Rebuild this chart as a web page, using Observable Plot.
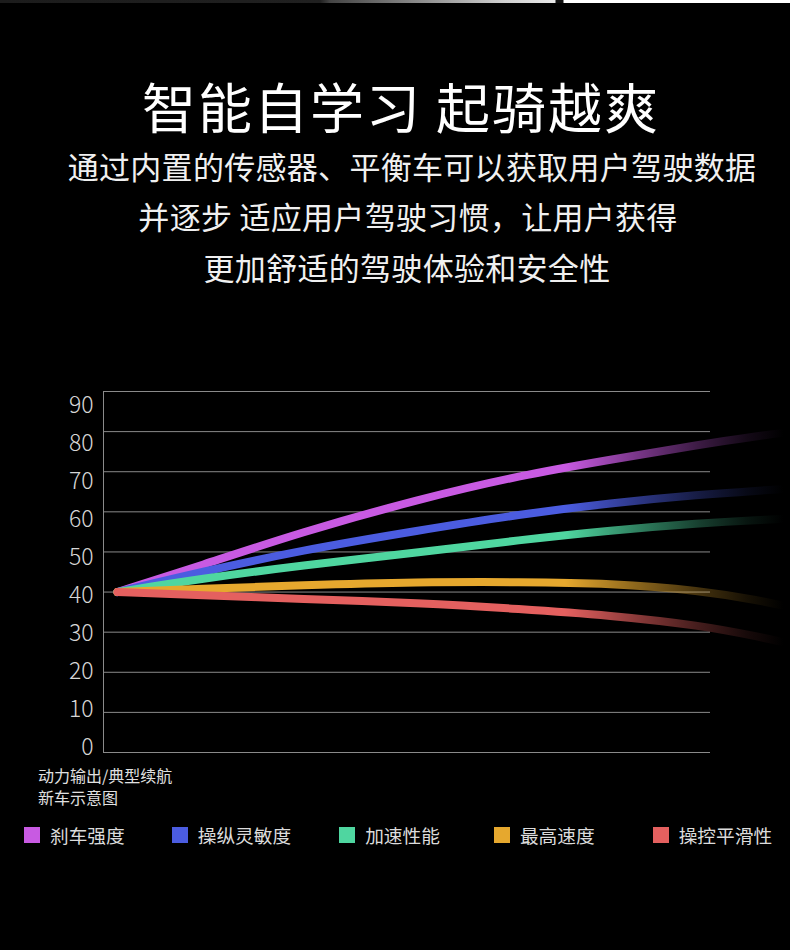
<!DOCTYPE html>
<html><head><meta charset="utf-8">
<script src="https://cdn.jsdelivr.net/npm/d3@7"></script>
<script src="https://cdn.jsdelivr.net/npm/@observablehq/plot@0.6"></script>
<style>
html,body{margin:0;padding:0;background:#000;}
body{width:790px;height:950px;position:relative;overflow:hidden;font-family:"Noto Sans CJK SC","Noto Sans",sans-serif;}
#strip{position:absolute;left:0;top:0;width:790px;height:3px;
  background:linear-gradient(to right,#1c1c1c 0px,#202020 320px,#444 330px,#d0d0d0 505px,#e8e8e8 555px,#111 556px,#111 563px,#fff 564px,#fff 790px);}
.t{position:absolute;left:0;width:790px;text-align:center;white-space:nowrap;}
#title{top:76px;font-size:54px;line-height:60px;color:#fff;letter-spacing:2px;margin-left:6px;}
.sub{font-size:31px;line-height:51px;color:#f0f0f0;letter-spacing:0.3px;}
#chart{position:absolute;left:0;top:370px;}
#axis{position:absolute;left:0;top:370px;}
#caption{position:absolute;left:38px;top:764px;font-size:16px;line-height:22px;color:#e0e0e0;}
#legend{position:absolute;left:24px;top:823px;display:flex;font-size:18.7px;line-height:24px;color:#dcdcdc;}
#legend .item{display:flex;align-items:center;}
#legend .sw{width:16px;height:16px;margin-right:10px;}
#chart g[aria-label="line"] path{filter:blur(0.5px);}
</style></head><body>
<div id="strip"></div>
<div id="title" class="t">智能自学习 起骑越爽</div>
<div class="t sub" style="top:140px;margin-left:17px;">通过内置的传感器、平衡车可以获取用户驾驶数据</div>
<div class="t sub" style="top:190px;margin-left:13px;">并逐步 适应用户驾驶习惯，让用户获得</div>
<div class="t sub" style="top:241px;margin-left:12px;">更加舒适的驾驶体验和安全性</div>
<div id="chart"></div>
<div id="axis"></div>
<div id="caption">动力输出/典型续航<br>新车示意图</div>
<div id="legend"></div>
<script>
// ---- data ----
const xSteps   = [2.3, 16, 32.5, 52, 68.7, 83.5, 98.4, 108.2, 113.2];
const brake    = [40, 46.6, 54.9, 63.2, 69.1, 73.0, 76.8, 79.0, 79.9];
const handling = [40, 45.0, 50.4, 55.4, 59.4, 62.2, 64.3, 65.3, 65.8];
const accel    = [40, 43.3, 46.6, 49.9, 53.0, 55.4, 57.2, 58.0, 58.3];
const topSpeed = [40, 40.8, 41.7, 42.5, 42.5, 42.2, 40.4, 37.9, 36.2];
const smooth   = [40, 39.2, 38.3, 37.3, 35.8, 34.2, 31.7, 28.8, 27.1];
const seriesNames  = ["刹车强度", "操纵灵敏度", "加速性能", "最高速度", "操控平滑性"];
const seriesColors = ["#c85ae2", "#4b5ce0", "#4fd6a0", "#e6a82e", "#e4605f"];
const yTicks = [0, 10, 20, 30, 40, 50, 60, 70, 80, 90];

const seriesValues = [brake, handling, accel, topSpeed, smooth];
const fadeStops = [[76, 1], [88, 0.6], [98, 0.3], [106, 0.1], [112, 0]];

const defsMark = (index, scales) => {
  const defs = d3.create("svg:defs");
  const x0 = scales.x(fadeStops[0][0]), x1 = scales.x(fadeStops[fadeStops.length - 1][0]);
  seriesColors.forEach((c, i) => {
    const g = defs.append("linearGradient").attr("id", `fade${i}`)
      .attr("gradientUnits", "userSpaceOnUse")
      .attr("x1", x0).attr("x2", x1).attr("y1", 0).attr("y2", 0);
    fadeStops.forEach(([v, o]) => {
      g.append("stop").attr("offset", (scales.x(v) - x0) / (x1 - x0))
        .attr("stop-color", c).attr("stop-opacity", o);
    });
  });
  return defs.node();
};

const lineMarks = seriesValues.map((vals, i) =>
  Plot.line(xSteps.map((x, j) => ({x, y: vals[j]})), {
    x: "x", y: "y", stroke: `url(#fade${i})`, strokeWidth: 8,
    strokeLinecap: "round", strokeLinejoin: "round", curve: "basis"
  })
);

const chart = Plot.plot({
  width: 790, height: 400,
  marginLeft: 103, marginRight: 80, marginTop: 21, marginBottom: 18,
  x: {domain: [0, 100], axis: null},
  y: {domain: [0, 90], axis: null},
  style: {background: "transparent", color: "#ddd", overflow: "visible"},
  marks: [
    defsMark,
    Plot.ruleY(yTicks, {stroke: "#8a8a8a", strokeWidth: 1}),
    Plot.ruleX([0], {y1: 0, y2: 90, stroke: "#8a8a8a", strokeWidth: 1}),
    ...lineMarks
  ]
});
document.getElementById("chart").append(chart);

const axis = Plot.plot({
  width: 110, height: 400,
  marginLeft: 103, marginRight: 7, marginTop: 35, marginBottom: 23,
  y: {domain: [0, 90], ticks: yTicks, tickSize: 0, tickPadding: 10, label: null},
  style: {background: "transparent", color: "#d6d6d6", fontSize: "23px",
          fontFamily: "'Noto Sans CJK SC', 'Noto Sans', sans-serif", fontWeight: 300},
  marks: [Plot.ruleY(yTicks, {strokeOpacity: 0})]
});
document.getElementById("axis").append(axis);

const legendGaps = [47, 48, 54, 58, 0];
const legend = d3.select("#legend");
seriesNames.forEach((n, i) => {
  const it = legend.append("div").attr("class", "item").style("margin-right", `${legendGaps[i]}px`);
  it.append("div").attr("class", "sw").style("background", seriesColors[i]);
  it.append("span").text(n);
});
</script>
</body></html>
